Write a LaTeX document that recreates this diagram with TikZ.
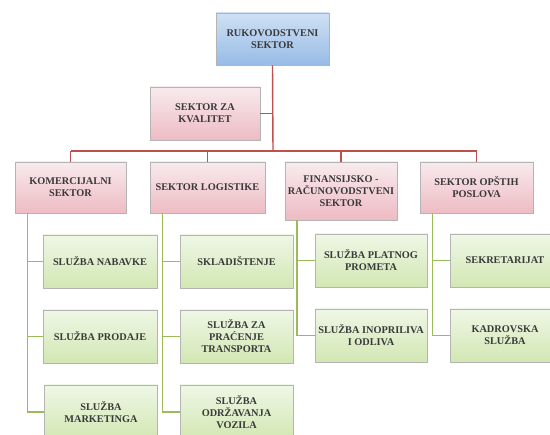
\documentclass[tikz,border=0pt]{standalone}
\usepackage{fontspec}
\setmainfont{Liberation Serif}
\definecolor{lineRed}{HTML}{C0504D}
\definecolor{lineGreen}{HTML}{9BBB59}
\definecolor{txt}{HTML}{3A3A3A}
\definecolor{edge}{HTML}{B4B4B4}
\definecolor{blueTop}{HTML}{CFE0F4}
\definecolor{blueBot}{HTML}{97BCE6}
\definecolor{pinkTop}{HTML}{F8EBED}
\definecolor{pinkBot}{HTML}{EEBBC4}
\definecolor{greenTop}{HTML}{EFF7E6}
\definecolor{greenBot}{HTML}{D2E7B3}
\tikzset{
  box/.style={rectangle, draw=edge, line width=0.9pt, align=center,
    font=\fontsize{10.3}{12}\selectfont\bfseries, text=txt, inner sep=1pt},
  headbox/.style={box, top color=blueTop, bottom color=blueBot},
  sectorbox/.style={box, top color=pinkTop, bottom color=pinkBot},
  unitbox/.style={box, top color=greenTop, bottom color=greenBot},
  redlink/.style={draw=lineRed, line width=1.4pt},
  greenlink/.style={draw=lineGreen, line width=1.6pt}
}
\begin{document}
\begin{tikzpicture}[x=1pt, y=-1pt]
\useasboundingbox[fill=white] (0,0) rectangle (550,435);

% management and sectors
\node[headbox, minimum width=113pt, minimum height=52pt] (ruk) at (272.5,39) {RUKOVODSTVENI\\SEKTOR};
\node[sectorbox, minimum width=110pt, minimum height=53pt] (kval) at (205,113.5) {SEKTOR ZA\\KVALITET};
\node[sectorbox, minimum width=111pt, minimum height=51pt] (kom) at (70.5,187.5) {KOMERCIJALNI\\SEKTOR};
\node[sectorbox, minimum width=115pt, minimum height=51pt] (log) at (207.5,187.5) {SEKTOR LOGISTIKE};
\node[sectorbox, minimum width=112pt, minimum height=58pt] (fin) at (341,191) {FINANSIJSKO -\\RAČUNOVODSTVENI\\SEKTOR};
\node[sectorbox, minimum width=113pt, minimum height=51pt] (ops) at (476.5,187.5) {SEKTOR OPŠTIH\\POSLOVA};

% services
\node[unitbox, minimum width=114pt, minimum height=53pt] (nab) at (100,261.5) {SLUŽBA NABAVKE};
\node[unitbox, minimum width=114pt, minimum height=53pt] (pro) at (100,336.5) {SLUŽBA PRODAJE};
\node[unitbox, minimum width=113pt, minimum height=54pt] (mar) at (101,412) {SLUŽBA\\MARKETINGA};
\node[unitbox, minimum width=113pt, minimum height=53pt] (skl) at (236.5,261.5) {SKLADIŠTENJE};
\node[unitbox, minimum width=113pt, minimum height=53pt] (tra) at (236.5,336.5) {SLUŽBA ZA\\PRAĆENJE\\TRANSPORTA};
\node[unitbox, minimum width=113pt, minimum height=54pt] (voz) at (236.5,412) {SLUŽBA\\ODRŽAVANJA\\VOZILA};
\node[unitbox, minimum width=112pt, minimum height=53pt] (pla) at (371,260.5) {SLUŽBA PLATNOG\\PROMETA};
\node[unitbox, minimum width=112pt, minimum height=53pt] (ino) at (371,335.5) {SLUŽBA INOPRILIVA\\I ODLIVA};
\node[unitbox, minimum width=110pt, minimum height=53pt] (sek) at (505,260.5) {SEKRETARIJAT};
\node[unitbox, minimum width=110pt, minimum height=53pt] (kad) at (505,335.5) {KADROVSKA\\SLUŽBA};

% red connectors
\coordinate (busL) at (70.5,151);
\coordinate (busR) at (476.5,151);
\coordinate (busM) at (273,151);
\path[redlink] (ruk.south) -- (busM);
\path[redlink] (kval.east) -- (kval.east -| busM);
\path[redlink] (busL) -- (busR);
\path[redlink] (busL) -- (kom.north);
\path[redlink] (log.north |- busL) -- (log.north);
\path[redlink] (fin.north |- busL) -- (fin.north);
\path[redlink] (busR) -- (ops.north);

% green connectors
\path[greenlink] ([xshift=-43pt]kom.south) |- (nab.west);
\path[greenlink] ([xshift=-43pt]kom.south) |- (pro.west);
\path[greenlink] ([xshift=-43pt]kom.south) |- (mar.west);
\path[greenlink] ([xshift=-45pt]log.south) |- (skl.west);
\path[greenlink] ([xshift=-45pt]log.south) |- (tra.west);
\path[greenlink] ([xshift=-45pt]log.south) |- (voz.west);
\path[greenlink] ([xshift=-44pt]fin.south) |- (pla.west);
\path[greenlink] ([xshift=-44pt]fin.south) |- (ino.west);
\path[greenlink] ([xshift=-44pt]ops.south) |- (sek.west);
\path[greenlink] ([xshift=-44pt]ops.south) |- (kad.west);
\end{tikzpicture}
\end{document}
